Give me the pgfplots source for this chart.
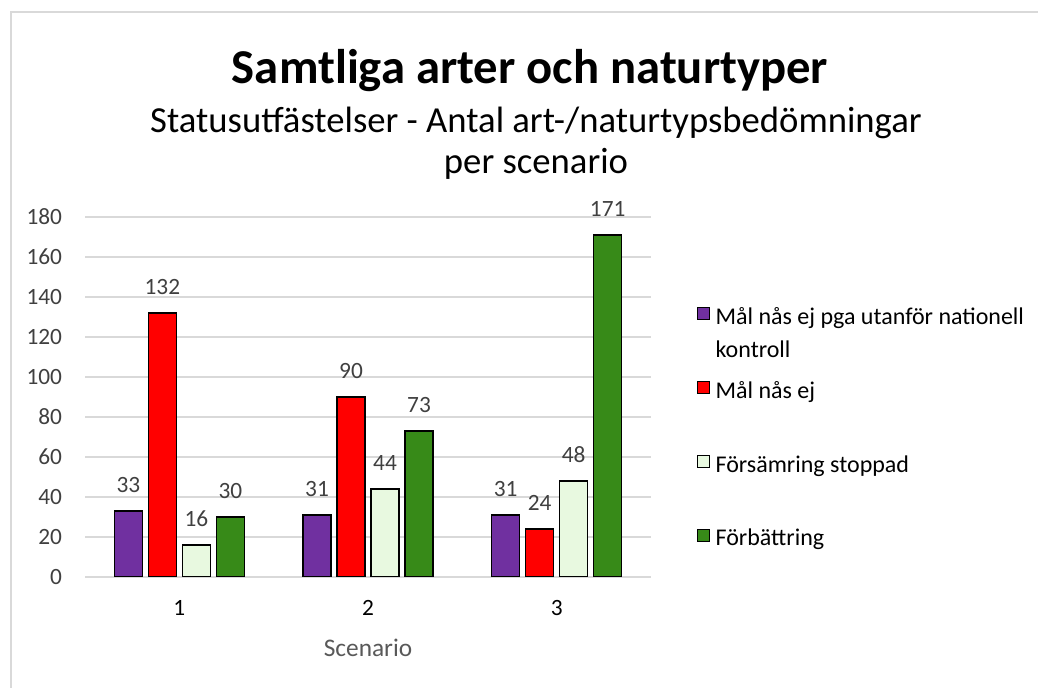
\documentclass[border=0pt]{standalone}
\usepackage{pgfplots}
\pgfplotsset{compat=1.18}
\usepackage{fontspec}
\setmainfont{Carlito}
\definecolor{cPurple}{HTML}{7030A0}
\definecolor{cRed}{HTML}{FF0000}
\definecolor{cLight}{HTML}{E8F9E0}
\definecolor{cGreen}{HTML}{378A18}
\definecolor{cGrid}{HTML}{D9D9D9}
\definecolor{cText}{HTML}{404040}
\definecolor{cLabel}{HTML}{595959}
\newcommand{\lbl}{\fontsize{17.5}{20}\selectfont}
\pgfplotsset{sqlegend/.style={legend image code/.code={\draw[##1, line width=0.75pt] (0pt,-0.5pt) rectangle (9pt,8.5pt);}}}
\begin{document}
\begin{tikzpicture}[x=0.75pt,y=0.75pt]
\useasboundingbox (0,0) rectangle (1038,688);
\fill[white] (0,0) rectangle (1038,688);
\draw[cGrid, line width=1pt] (11,0) -- (11,676) -- (1038,676);
\node[anchor=base, font=\fontsize{36.5}{40}\selectfont\bfseries] at (530,604) {Samtliga arter och naturtyper};
\node[anchor=base, font=\fontsize{27.5}{30}\selectfont] at (536,555) {Statusutfästelser - Antal art-/naturtypsbedömningar};
\node[anchor=base, font=\fontsize{27.5}{30}\selectfont] at (536,514.5) {per scenario};
\begin{axis}[
  at={(63.75pt,83.25pt)}, anchor=south west, scale only axis,
  width=424.5pt, height=270pt,
  ybar=4.5pt, bar width=21pt,
  xmin=0.5, xmax=3.5, ymin=0, ymax=180,
  xtick={1,2,3}, ytick={0,20,...,180},
  ymajorgrids, major grid style={cGrid, line width=1pt},
  axis line style={draw=none},
  major tick length=0pt,
  tick label style={font=\lbl},
  /pgf/number format/assume math mode=true,
  yticklabel style={text=cText, inner sep=0pt, xshift=-17pt},
  xticklabel style={text=black, inner sep=0pt, yshift=-17.5pt},
  xlabel={Scenario},
  xlabel style={font=\fontsize{19}{22}\selectfont, text=cLabel, at={(axis description cs:0.5,0)}, anchor=center, yshift=-53pt},
  nodes near coords,
  nodes near coords style={font=\lbl, text=cText, inner sep=0pt, anchor=south, yshift=13pt},
  legend style={draw=none, fill=none, inner sep=0pt, at={(axis description cs:1.0813,0.75)}, anchor=north west,
    font=\fontsize{18}{24.75}\selectfont, text=black, cells={anchor=west},
    row sep=38.5pt, nodes={inner sep=0pt, text height=12pt, text depth=4pt},
    /tikz/every odd column/.style={column sep=4pt}},
]
\addplot[fill=cPurple, draw=black, line width=1.2pt, sqlegend] coordinates {(1,33) (2,31) (3,31)};
\addlegendentry{\parbox[t]{240pt}{Mål nås ej pga utanför nationell\newline kontroll}}
\addplot[fill=cRed, draw=black, line width=1.2pt, sqlegend] coordinates {(1,132) (2,90) (3,24)};
\addlegendentry{Mål nås ej}
\addplot[fill=cLight, draw=black, line width=1.2pt, sqlegend] coordinates {(1,16) (2,44) (3,48)};
\addlegendentry{Försämring stoppad}
\addplot[fill=cGreen, draw=black, line width=1.2pt, sqlegend] coordinates {(1,30) (2,73) (3,171)};
\addlegendentry{Förbättring}
\end{axis}
\end{tikzpicture}
\end{document}
